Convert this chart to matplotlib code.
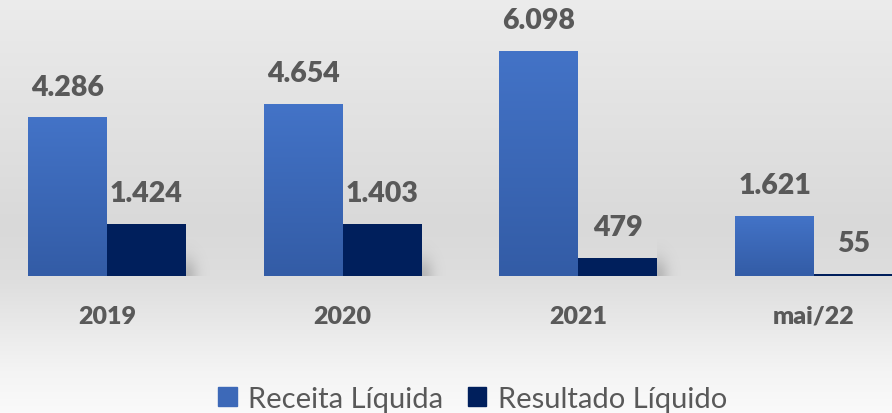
import numpy as np
import matplotlib.pyplot as plt
from matplotlib.colors import LinearSegmentedColormap
from matplotlib.patches import Rectangle

categorias = ['2019', '2020', '2021', 'mai/22']
receita = [4286, 4654, 6098, 1621]
resultado = [1424, 1403, 479, 55]
rotulos_receita = ['4.286', '4.654', '6.098', '1.621']
rotulos_resultado = ['1.424', '1.403', '479', '55']

plt.rcParams['font.family'] = ['Lato', 'DejaVu Sans']
cinza = '#595959'
azul_topo = '#4373C7'
azul_base = '#335CA6'
marinho = '#001F5C'

fig = plt.figure(figsize=(8.92, 4.14), dpi=100)

# fundo em degrade vertical (cinza claro -> mais escuro -> quase branco)
bg = fig.add_axes([0, 0, 1, 1], zorder=0)
linhas = np.linspace(0, 1, 414)
tons = np.interp(linhas, [0, 0.1, 0.55, 0.68, 0.8, 0.9, 1.0],
                 [236, 232, 217, 222, 234, 244, 250]) / 255
img = np.stack([tons, tons, tons], axis=-1)[:, None, :]
bg.imshow(img, extent=[0, 1, 0, 1], aspect='auto')
bg.set_xlim(0, 1)
bg.set_ylim(0, 1)
bg.axis('off')

ax = fig.add_axes([0, 137 / 414, 1, 277 / 414], zorder=1)
ax.patch.set_alpha(0)
x = np.arange(len(categorias))
w = 0.335

grad = LinearSegmentedColormap.from_list('azul', [azul_base, azul_topo])
g = np.linspace(0, 1, 100).reshape(-1, 1)
for xi, h in zip(x, receita):
    ax.imshow(g, cmap=grad, origin='lower', aspect='auto',
              extent=[xi - w, xi, 0, h], zorder=2)

# sombra suave a direita das barras escuras
dx = np.linspace(0, 1, 30)
dy = np.linspace(0, 1, 30)
alfa = 0.35 * np.exp(-(dx[None, :] / 0.45) ** 2) * np.exp(-(dy[:, None] / 0.5) ** 2)
sombra = np.zeros((30, 30, 4))
sombra[..., :3] = 0.45
sombra[..., 3] = alfa
for xi in x:
    ax.imshow(sombra, origin='lower', aspect='auto', interpolation='bilinear',
              extent=[xi + w, xi + w + 0.11, 0, 1000], zorder=1)

ax.bar(x + w / 2, resultado, w, color=marinho, zorder=3)

for xi, h, t in zip(x, receita, rotulos_receita):
    ax.annotate(t, (xi - w / 2, h), xytext=(0, 31), textcoords='offset pixels',
                ha='center', va='center', fontsize=20.5, fontweight='heavy', color=cinza)
for xi, h, t in zip(x, resultado, rotulos_resultado):
    ax.annotate(t, (xi + w / 2, h), xytext=(0, 31), textcoords='offset pixels',
                ha='center', va='center', fontsize=20.5, fontweight='heavy', color=cinza)
for xi, t in zip(x, categorias):
    ax.annotate(t, (xi, 0), xytext=(0, -40), textcoords='offset pixels',
                ha='center', va='center', fontsize=18, fontweight='heavy', color=cinza,
                annotation_clip=False)

ax.set_xlim(-0.454, 3.331)
ax.set_ylim(0, 7514)
ax.axis('off')

handles = [Rectangle((0, 0), 1, 1, color='#3D69B8'), Rectangle((0, 0), 1, 1, color=marinho)]
leg = fig.legend(handles, ['Receita Líquida', 'Resultado Líquido'], ncol=2,
                 loc='center', bbox_to_anchor=(0.53, 0.034), frameon=False,
                 fontsize=21, handlelength=0.62, handleheight=0.62,
                 handletextpad=0.4, columnspacing=0.85, labelcolor=cinza,
                 borderpad=0)

fig.savefig('out.png', dpi=100)
